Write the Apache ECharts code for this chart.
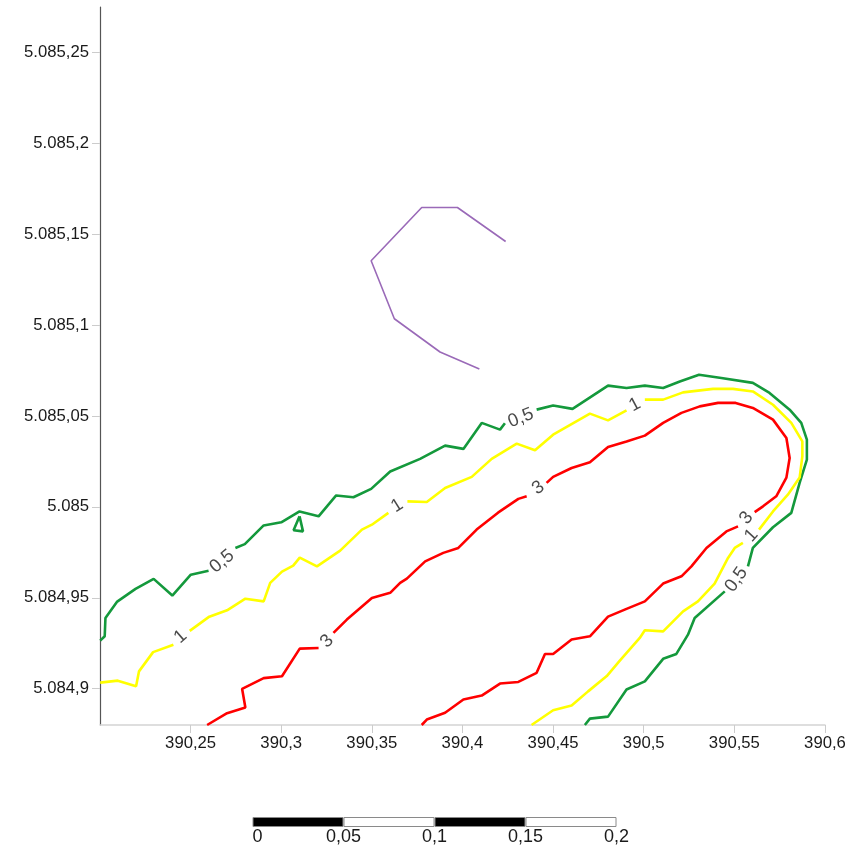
<!DOCTYPE html>
<html>
<head>
<meta charset="utf-8">
<script src="https://cdn.jsdelivr.net/npm/echarts@6/dist/echarts.min.js"></script>
<style>
html,body{margin:0;padding:0;background:#fff;}
#chart{width:853px;height:846px;}
</style>
</head>
<body>
<div id="chart"></div>
<script>
// ---- axis ticks ----
const xTicks = [390.25, 390.3, 390.35, 390.4, 390.45, 390.5, 390.55, 390.6];
const yTicks = [5084.9, 5084.95, 5085, 5085.05, 5085.1, 5085.15, 5085.2, 5085.25];
const xRange = [390.2, 390.6];
const yRange = [5084.88, 5085.275];

// ---- contour 0.5 (green), split at label gaps ----
const contour05 = [
  [[390.2001,5084.9264],[390.2026,5084.9288],[390.2030,5084.9389],[390.2095,5084.9479],[390.2196,5084.9549],[390.2296,5084.9604],[390.2399,5084.9512],[390.2501,5084.9627],[390.2599,5084.9649]],
  [[390.2747,5084.9774],[390.2799,5084.9795],[390.2903,5084.9898],[390.3000,5084.9915],[390.3101,5084.9975],[390.3206,5084.9948],[390.3303,5085.0063],[390.3398,5085.0053],[390.3496,5085.0099],[390.3601,5085.0195],[390.3766,5085.0264],[390.3904,5085.0337],[390.4005,5085.0319],[390.4106,5085.0462],[390.4207,5085.0425],[390.4234,5085.0460]],
  [[390.4409,5085.0535],[390.4500,5085.0558],[390.4607,5085.0539],[390.4803,5085.0667],[390.4905,5085.0654],[390.5006,5085.0667],[390.5107,5085.0654],[390.5199,5085.0690],[390.5305,5085.0727],[390.5428,5085.0709],[390.5602,5085.0682],[390.5694,5085.0627],[390.5805,5085.0535],[390.5869,5085.0462],[390.5900,5085.0370],[390.5900,5085.0260],[390.5860,5085.0132],[390.5814,5084.9967],[390.5713,5084.9888],[390.5602,5084.9774],[390.5575,5084.9673]],
  [[390.5447,5084.9535],[390.5281,5084.9389],[390.5244,5084.9297],[390.5180,5084.9191],[390.5107,5084.9164],[390.5006,5084.9040],[390.4905,5084.8995],[390.4803,5084.8846],[390.4703,5084.8835],[390.4675,5084.8800]]
];
const contour05Island = [[390.3101,5084.9948],[390.3068,5084.9871],[390.3120,5084.9865],[390.3101,5084.9948]];

// ---- contour 1 (yellow) ----
const contour1 = [
  [[390.2001,5084.9033],[390.2098,5084.9044],[390.2199,5084.9013],[390.2215,5084.9095],[390.2293,5084.9201],[390.2405,5084.9242]],
  [[390.2495,5084.9318],[390.2603,5084.9396],[390.2701,5084.9431],[390.2802,5084.9495],[390.2903,5084.9480],[390.2939,5084.9582],[390.3004,5084.9644],[390.3066,5084.9677],[390.3102,5084.9721],[390.3197,5084.9673],[390.3325,5084.9759],[390.3445,5084.9875],[390.3500,5084.9902],[390.3591,5084.9967]],
  [[390.3696,5085.0030],[390.3803,5085.0027],[390.3904,5085.0104],[390.4051,5085.0165],[390.4161,5085.0264],[390.4299,5085.0348],[390.4400,5085.0311],[390.4500,5085.0397],[390.4703,5085.0513],[390.4803,5085.0476],[390.4905,5085.0531]],
  [[390.5006,5085.0590],[390.5107,5085.0590],[390.5217,5085.0630],[390.5382,5085.0649],[390.5492,5085.0649],[390.5602,5085.0635],[390.5713,5085.0562],[390.5814,5085.0462],[390.5875,5085.0360],[390.5875,5085.0278],[390.5860,5085.0161],[390.5795,5085.0067],[390.5713,5084.9975],[390.5636,5084.9875]],
  [[390.5547,5084.9802],[390.5502,5084.9774],[390.5465,5084.9719],[390.5391,5084.9578],[390.5299,5084.9480],[390.5217,5084.9425],[390.5107,5084.9315],[390.5006,5084.9321],[390.4978,5084.9279],[390.4868,5084.9154],[390.4796,5084.9069],[390.4693,5084.8985],[390.4602,5084.8907],[390.4500,5084.8881],[390.4381,5084.8800]]
];

// ---- contour 3 (red) ----
const contour3 = [
  [[390.2591,5084.8800],[390.2701,5084.8865],[390.2802,5084.8896],[390.2784,5084.8999],[390.2903,5084.9058],[390.3004,5084.9068],[390.3102,5084.9220],[390.3206,5084.9224]],
  [[390.3288,5084.9307],[390.3362,5084.9380],[390.3500,5084.9499],[390.3601,5084.9527],[390.3656,5084.9582],[390.3693,5084.9605],[390.3794,5084.9700],[390.3894,5084.9747],[390.3977,5084.9774],[390.4078,5084.9875],[390.4196,5084.9968],[390.4308,5085.0044],[390.4354,5085.0058]],
  [[390.4464,5085.0132],[390.4500,5085.0165],[390.4602,5085.0214],[390.4703,5085.0245],[390.4803,5085.0330],[390.4905,5085.0360],[390.5006,5085.0392],[390.5107,5085.0462],[390.5208,5085.0517],[390.5309,5085.0553],[390.5410,5085.0572],[390.5507,5085.0572],[390.5602,5085.0544],[390.5713,5085.0480],[390.5787,5085.0379],[390.5805,5085.0269],[390.5787,5085.0161],[390.5731,5085.0058],[390.5658,5085.0003],[390.5612,5084.9971]],
  [[390.5520,5084.9893],[390.5456,5084.9865],[390.5346,5084.9774],[390.5263,5084.9673],[390.5208,5084.9618],[390.5107,5084.9578],[390.5006,5084.9480],[390.4905,5084.9439],[390.4803,5084.9396],[390.4703,5084.9288],[390.4602,5084.9270],[390.4500,5084.9191],[390.4455,5084.9191],[390.4409,5084.9087],[390.4308,5084.9037],[390.4207,5084.9028],[390.4106,5084.8962],[390.4005,5084.8940],[390.3904,5084.8867],[390.3803,5084.8830],[390.3775,5084.8800]]
];

// ---- purple line ----
const purpleLine = [[390.4238,5085.1460],[390.3972,5085.1647],[390.3775,5085.1647],[390.3496,5085.1354],[390.3624,5085.1035],[390.3876,5085.0852],[390.4093,5085.0759]];

// ---- contour labels: [x, y, text] and their rotation ----
const contourLabels = [
  [390.2673,5084.9700,'0,5'],[390.4322,5085.0489,'0,5'],[390.5511,5084.9600,'0,5'],
  [390.2444,5084.9286,'1'],[390.3639,5085.0007,'1'],[390.4951,5085.0562,'1'],[390.5594,5084.9842,'1'],
  [390.3252,5084.9260,'3'],[390.4418,5085.0104,'3'],[390.5566,5084.9939,'3']
];
const contourLabelAngles = [40, 22, 55, 41, 32, 28, 48, 45, 35, 50];

// ---- scale bar ----
const scaleSegments = [0.05, 0.05, 0.05, 0.05];
const scaleTicks = [0, 0.05, 0.1, 0.15, 0.2];

function fmt(v){
  const s = (+(+v).toFixed(4)).toString();
  const parts = s.split('.');
  const ip = parts[0].replace(/\B(?=(\d{3})+(?!\d))/g, '.');
  return parts[1] ? ip + ',' + parts[1] : ip;
}

const FONT = '"Liberation Sans", Arial, sans-serif';
const series = [];
function addLines(segs, color, width){
  segs.forEach(seg => series.push({
    type:'line', xAxisIndex:0, yAxisIndex:0, data:seg, showSymbol:false, symbol:'none',
    lineStyle:{color:color, width:width}, animation:false, silent:true, z:3
  }));
}
addLines(contour05, '#14993c', 2.6);
addLines([contour05Island], '#14993c', 2.6);
addLines(contour1, '#ffff00', 2.6);
addLines(contour3, '#ff0000', 2.6);
addLines([purpleLine], '#9a6ab8', 1.6);

series.push({
  type:'scatter', xAxisIndex:0, yAxisIndex:0, symbolSize:0, animation:false, silent:true, z:5,
  data: contourLabels.map((d,i) => ({value:[d[0], d[1]], name:d[2],
    label:{rotate: contourLabelAngles[i]}})),
  label:{show:true, position:'inside', formatter: p => p.name, color:'#1a1a1a', fontSize:18.5, fontFamily:FONT}
});

const scaleColors = ['#000000', '#ffffff', '#000000', '#ffffff'];
scaleSegments.forEach((v,i) => series.push({
  type:'bar', xAxisIndex:1, yAxisIndex:1, stack:'scale', data:[v], barWidth:'100%',
  itemStyle:{color:scaleColors[i], borderColor:'#8a8a8a', borderWidth:1},
  animation:false, silent:true
}));

const chart = echarts.init(document.getElementById('chart'), null, {renderer:'canvas'});
chart.setOption({
  backgroundColor:'#ffffff',
  animation:false,
  grid:[
    {left:100, right:28, top:7, bottom:121, containLabel:false},
    {left:252.5, width:364, top:817, height:11, containLabel:false}
  ],
  xAxis:[
    {type:'value', gridIndex:0, min:xRange[0], max:xRange[1],
     axisLine:{show:true, lineStyle:{color:'#d4d4d4', width:1.5}},
     axisTick:{show:true, length:8, lineStyle:{color:'#cccccc'}, customValues:xTicks},
     axisLabel:{show:true, customValues:xTicks, formatter:fmt, color:'#1a1a1a', fontSize:16.7, fontFamily:FONT, margin:10},
     splitLine:{show:false}},
    {type:'value', gridIndex:1, min:0, max:0.2,
     axisLine:{show:false}, axisTick:{show:false}, splitLine:{show:false},
     axisLabel:{show:true, customValues:scaleTicks, formatter:fmt, color:'#1a1a1a', fontSize:18, fontFamily:FONT, margin:1, alignMinLabel:'left'}}
  ],
  yAxis:[
    {type:'value', gridIndex:0, min:yRange[0], max:yRange[1], scale:true,
     axisLine:{show:true, lineStyle:{color:'#555555', width:1.2}},
     axisTick:{show:true, length:8, lineStyle:{color:'#cccccc'}, customValues:yTicks},
     axisLabel:{show:true, customValues:yTicks, formatter:fmt, color:'#1a1a1a', fontSize:16.7, fontFamily:FONT, margin:11},
     splitLine:{show:false}},
    {type:'category', gridIndex:1, data:['s'], show:false}
  ],
  series: series
});
</script>
</body>
</html>
